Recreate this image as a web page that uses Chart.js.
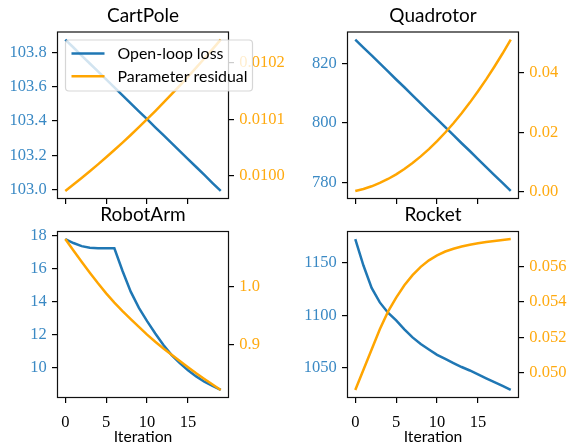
<!DOCTYPE html>
<html><head><meta charset="utf-8">
<script src="https://cdn.jsdelivr.net/npm/chart.js@4.4.1/dist/chart.umd.min.js"></script>
<style>
html,body{margin:0;padding:0;background:#fff;}
#wrap{position:relative;width:568px;height:447px;overflow:hidden;background:#fff;}
canvas{position:absolute;left:0;top:0;}
</style></head><body>
<div id="wrap">
<canvas id="c0" width="568" height="447"></canvas>
<canvas id="c1" width="568" height="447"></canvas>
<canvas id="c2" width="568" height="447"></canvas>
<canvas id="c3" width="568" height="447"></canvas>
</div>
<script>
// ---- data ----
const iterations = [0,1,2,3,4,5,6,7,8,9,10,11,12,13,14,15,16,17,18,19];
const seriesNames = ['Open-loop loss', 'Parameter residual'];

const cartpoleLoss = [103.874,103.828,103.781,103.735,103.689,103.642,103.596,103.550,103.503,103.457,103.411,103.364,103.318,103.272,103.226,103.179,103.133,103.087,103.040,102.994];
const cartpoleResidual = [0.009973,0.0099843,0.0099959,0.0100078,0.0100201,0.0100326,0.0100455,0.0100586,0.0100721,0.0100859,0.0101000,0.0101145,0.0101292,0.0101442,0.0101596,0.0101752,0.0101912,0.0102075,0.0102241,0.010241];

const quadrotorLoss = [828.0,825.3,822.7,820.0,817.3,814.6,812.0,809.3,806.6,803.9,801.3,798.6,795.9,793.2,790.6,787.9,785.2,782.5,779.9,777.2];
const quadrotorResidual = [0.0003,0.00097,0.00186,0.00298,0.00431,0.00587,0.00766,0.00966,0.01189,0.01434,0.01701,0.01991,0.02303,0.02637,0.02994,0.03373,0.03773,0.04197,0.04642,0.0511];

const robotarmLoss = [17.78,17.54,17.35,17.26,17.23,17.23,17.22,15.85,14.60,13.62,12.82,12.07,11.38,10.77,10.28,9.85,9.48,9.16,8.90,8.66];
const robotarmResidual = [1.0807,1.0612,1.0420,1.0232,1.0050,0.9878,0.9720,0.9575,0.9437,0.9303,0.9172,0.9050,0.8935,0.8826,0.8720,0.8614,0.8510,0.8413,0.8318,0.8225];

const rocketLoss = [1172.8,1147.5,1126.1,1112.3,1102.5,1095.1,1086.6,1078.9,1072.5,1067.3,1062.2,1058.3,1054.4,1050.6,1047.3,1043.6,1039.8,1036.2,1032.5,1028.7];
const rocketResidual = [0.0490,0.05015,0.0513,0.05245,0.05345,0.05425,0.05495,0.05553,0.05600,0.05637,0.05665,0.05687,0.05703,0.05716,0.05726,0.05734,0.05741,0.05747,0.05753,0.05758];

// ---- tick labels ----
const xTickLabels = ['0','5','10','15'];
const cartpoleLossTicks = ['103.0','103.2','103.4','103.6','103.8'];
const cartpoleResidualTicks = ['0.0100','0.0101','0.0102'];
const quadrotorLossTicks = ['780','800','820'];
const quadrotorResidualTicks = ['0.00','0.02','0.04'];
const robotarmLossTicks = ['10','12','14','16','18'];
const robotarmResidualTicks = ['0.9','1.0'];
const rocketLossTicks = ['1050','1100','1150'];
const rocketResidualTicks = ['0.050','0.052','0.054','0.056'];

// ---- styling / layout ----
const BLUE = '#1f77b4', ORANGE = '#ffa500';
const BLUE_TEXT = '#3a89c4', ORANGE_TEXT = '#ffaa10';
const TICK_FONT = {family: "'Liberation Serif', serif", size: 16.5};
const SANS = "Lato, 'DejaVu Sans', sans-serif";
const YW = 55, XH = 30, LW = 2.5;

const panels = [
  {id:'c0', title:'CartPole', loss:cartpoleLoss, res:cartpoleResidual, lt:cartpoleLossTicks, rt:cartpoleResidualTicks, area:{l:57.5,r:228.5,t:32,b:198.5}, xl:false, legend:true},
  {id:'c1', title:'Quadrotor', loss:quadrotorLoss, res:quadrotorResidual, lt:quadrotorLossTicks, rt:quadrotorResidualTicks, area:{l:347.5,r:518.5,t:32,b:198.5}, xl:false, legend:false},
  {id:'c2', title:'RobotArm', loss:robotarmLoss, res:robotarmResidual, lt:robotarmLossTicks, rt:robotarmResidualTicks, area:{l:57.5,r:228.5,t:231.5,b:397.5}, xl:true, legend:false},
  {id:'c3', title:'Rocket', loss:rocketLoss, res:rocketResidual, lt:rocketLossTicks, rt:rocketResidualTicks, area:{l:347.5,r:518.5,t:231.5,b:397.5}, xl:true, legend:false}
];

function bounds(arr){
  const lo = Math.min(...arr), hi = Math.max(...arr), pad = (hi-lo)*0.05;
  return {min: lo-pad, max: hi+pad};
}
const gridOpts = {display:true, drawOnChartArea:false, drawTicks:true, tickLength:5.5, color:'#000', tickColor:'#000', tickWidth:1.2, lineWidth:1.2};

function yAxis(pos, labels, color, data, width){
  const b = bounds(data);
  return {
    type:'linear', position:pos, min:b.min, max:b.max,
    afterBuildTicks: s => { s.ticks = labels.map(t => ({value: parseFloat(t)})); },
    afterFit: s => { s.width = width; },
    grid: gridOpts,
    border: {display:false},
    ticks: {color, padding:5.3, font:TICK_FONT, autoSkip:false, callback:(v,i)=>labels[i]}
  };
}

const decor = {
  id:'decor',
  afterDatasetsDraw(chart, args, o){
    const {ctx, chartArea:a} = chart;
    ctx.save();
    ctx.strokeStyle = '#111'; ctx.lineWidth = 1.2;
    ctx.strokeRect(a.left, a.top, a.right-a.left, a.bottom-a.top);
    ctx.restore();
  },
  afterDraw(chart, args, o){
    const {ctx, chartArea:a} = chart;
    const cx = (a.left+a.right)/2;
    ctx.save();
    ctx.fillStyle = '#000'; ctx.textAlign = 'center'; ctx.textBaseline = 'alphabetic';
    ctx.font = '19px ' + SANS;
    ctx.fillText(o.title, cx, a.top - 10.3);
    if (o.xlabel){
      ctx.font = '15.7px ' + SANS;
      ctx.fillText(o.xlabel, cx, 442);
    }
    if (o.legend){
      const x = a.left + 8, y = a.top + 8, w = 187, h = 51, r = 3.5;
      ctx.beginPath();
      ctx.moveTo(x+r, y); ctx.lineTo(x+w-r, y); ctx.arcTo(x+w, y, x+w, y+r, r);
      ctx.lineTo(x+w, y+h-r); ctx.arcTo(x+w, y+h, x+w-r, y+h, r);
      ctx.lineTo(x+r, y+h); ctx.arcTo(x, y+h, x, y+h-r, r);
      ctx.lineTo(x, y+r); ctx.arcTo(x, y, x+r, y, r); ctx.closePath();
      ctx.fillStyle = 'rgba(255,255,255,0.8)'; ctx.fill();
      ctx.strokeStyle = 'rgba(204,204,204,0.8)'; ctx.lineWidth = 1.2; ctx.stroke();
      ctx.font = '15.9px ' + SANS; ctx.textAlign = 'left'; ctx.textBaseline = 'middle';
      chart.data.datasets.forEach((ds, i) => {
        const ry = y + 13.5 + i*22.7;
        ctx.beginPath(); ctx.moveTo(x+6, ry); ctx.lineTo(x+39, ry);
        ctx.strokeStyle = ds.borderColor; ctx.lineWidth = LW; ctx.stroke();
        ctx.fillStyle = '#000';
        ctx.fillText(ds.label, x+52, ry+0.5);
      });
    }
    ctx.restore();
  }
};

const xb = bounds(iterations);
panels.forEach(p => {
  const A = p.area;
  const rightW = Math.min(60, 568 - A.r);
  new Chart(document.getElementById(p.id), {
    type:'line',
    data:{datasets:[
      {label:seriesNames[0], data:iterations.map((x,i)=>({x, y:p.loss[i]})), borderColor:BLUE, borderWidth:LW, pointRadius:0, tension:0, yAxisID:'y', order:1},
      {label:seriesNames[1], data:iterations.map((x,i)=>({x, y:p.res[i]})), borderColor:ORANGE, borderWidth:LW, pointRadius:0, tension:0, yAxisID:'y2', order:0}
    ]},
    options:{
      responsive:false, animation:false, devicePixelRatio:1,
      layout:{padding:{left:A.l-YW, right:568-A.r-rightW, top:A.t, bottom:447-A.b-XH}},
      plugins:{legend:{display:false}, tooltip:{enabled:false}, title:{display:false},
        decor:{title:p.title, xlabel:p.xl ? 'Iteration' : '', legend:p.legend}},
      scales:{
        x:{type:'linear', position:'bottom', min:xb.min, max:xb.max,
          afterBuildTicks: s => { s.ticks = xTickLabels.map(t => ({value: parseFloat(t)})); },
          afterFit: s => { s.height = XH; },
          grid: gridOpts, border:{display:false},
          ticks:{color:'#000', padding:10, font:TICK_FONT, autoSkip:false, maxRotation:0, callback:(v,i)=> p.xl ? xTickLabels[i] : ''}},
        y: yAxis('left', p.lt, BLUE_TEXT, p.loss, YW),
        y2: yAxis('right', p.rt, ORANGE_TEXT, p.res, rightW)
      }
    },
    plugins:[decor]
  });
});
</script>
</body></html>
